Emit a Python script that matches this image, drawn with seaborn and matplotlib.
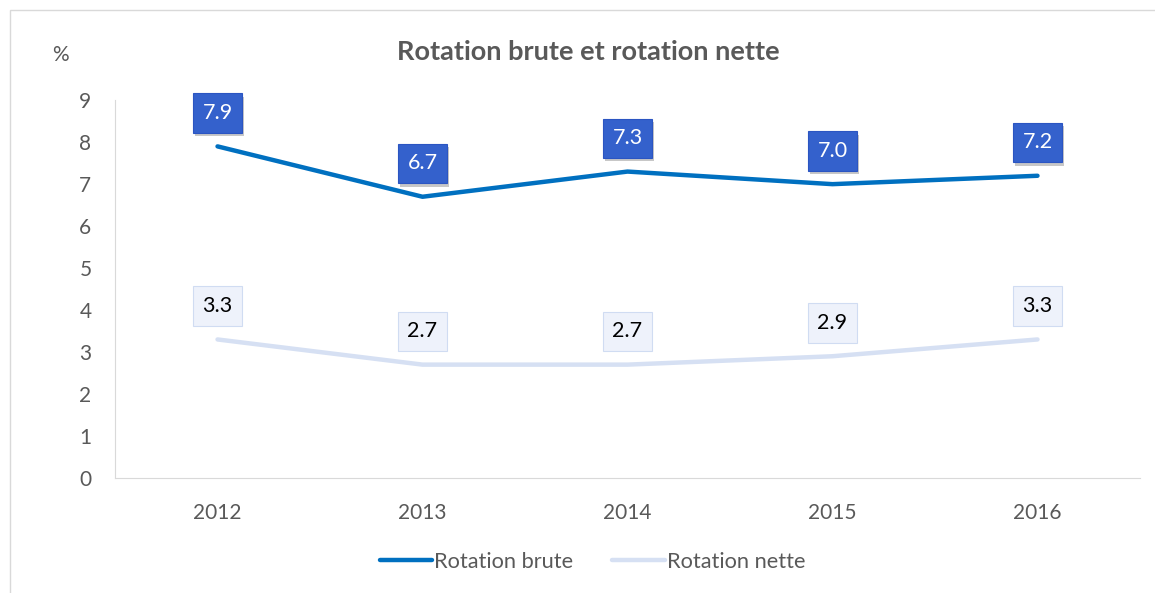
import matplotlib.pyplot as plt
import matplotlib.patheffects as pe
import seaborn as sns
import pandas as pd

# Chart data
years = ["2012", "2013", "2014", "2015", "2016"]
brute = [7.9, 6.7, 7.3, 7.0, 7.2]
nette = [3.3, 2.7, 2.7, 2.9, 3.3]
series_names = ["Rotation brute", "Rotation nette"]
colors = ["#0070C0", "#D6E0F3"]

df = pd.DataFrame({
    "year": years * 2,
    "value": brute + nette,
    "series": [series_names[0]] * len(years) + [series_names[1]] * len(years),
})

sns.set_style("white")
plt.rcParams["font.family"] = ["Lato", "DejaVu Sans"]

fig = plt.figure(figsize=(11.55, 5.93), dpi=100)
ax = fig.add_axes([0.0996, 0.194, 0.8874, 0.637])

sns.lineplot(data=df, x="year", y="value", hue="series", palette=colors,
             linewidth=3.2, ax=ax, sort=False, legend=False,
             solid_capstyle="round")

ax.set_xlim(-0.5, len(years) - 0.5)
ax.set_ylim(0, 9)
ax.set_yticks(range(0, 10))
ax.set_xlabel("")
ax.set_ylabel("")
ax.tick_params(axis="both", colors="#595959", labelsize=15, length=0)
ax.tick_params(axis="y", pad=17)
ax.tick_params(axis="x", pad=18)
for side in ["top", "right"]:
    ax.spines[side].set_visible(False)
ax.spines["left"].set_color("#D9D9D9")
ax.spines["bottom"].set_color("#D9D9D9")

# data labels
shadow = [pe.withSimplePatchShadow(offset=(1.5, -2.5), shadow_rgbFace="#000000", alpha=0.22)]
for i, v in enumerate(brute):
    t = ax.annotate(f"{v:.1f}", (i, v), xytext=(0, 24), textcoords="offset points",
                    ha="center", va="center", color="white", fontsize=15.5,
                    bbox=dict(boxstyle="square,pad=0.45", fc="#3461CC", ec="#2B55C2", lw=0.8))
    t.get_bbox_patch().set_path_effects(shadow)
for i, v in enumerate(nette):
    ax.annotate(f"{v:.1f}", (i, v), xytext=(0, 24), textcoords="offset points",
                ha="center", va="center", color="#000000", fontsize=15.5,
                bbox=dict(boxstyle="square,pad=0.45", fc="#EEF2FB", ec="#D0DCF2", lw=0.8))

fig.text(0.509, 0.912, "Rotation brute et rotation nette", ha="center", va="center",
         fontsize=19.5, fontweight="bold", color="#595959")
fig.text(0.052, 0.907, "%", ha="center", va="center", fontsize=15, color="#595959")

# legend
handles = [plt.Line2D([0], [0], color=c, lw=3.2, solid_capstyle="round") for c in colors]
fig.legend(handles, series_names, loc="center", bbox_to_anchor=(0.513, 0.053), ncol=2,
           frameon=False, fontsize=15.7, labelcolor="#595959", handlelength=2.4,
           handletextpad=0.1, columnspacing=1.8)

# outer chart border
fig.patches.append(plt.Rectangle((0.009, -0.01), 1.5, 0.993, transform=fig.transFigure,
                                 fill=False, ec="#D9D9D9", lw=1))

fig.savefig("out.png", dpi=100)
